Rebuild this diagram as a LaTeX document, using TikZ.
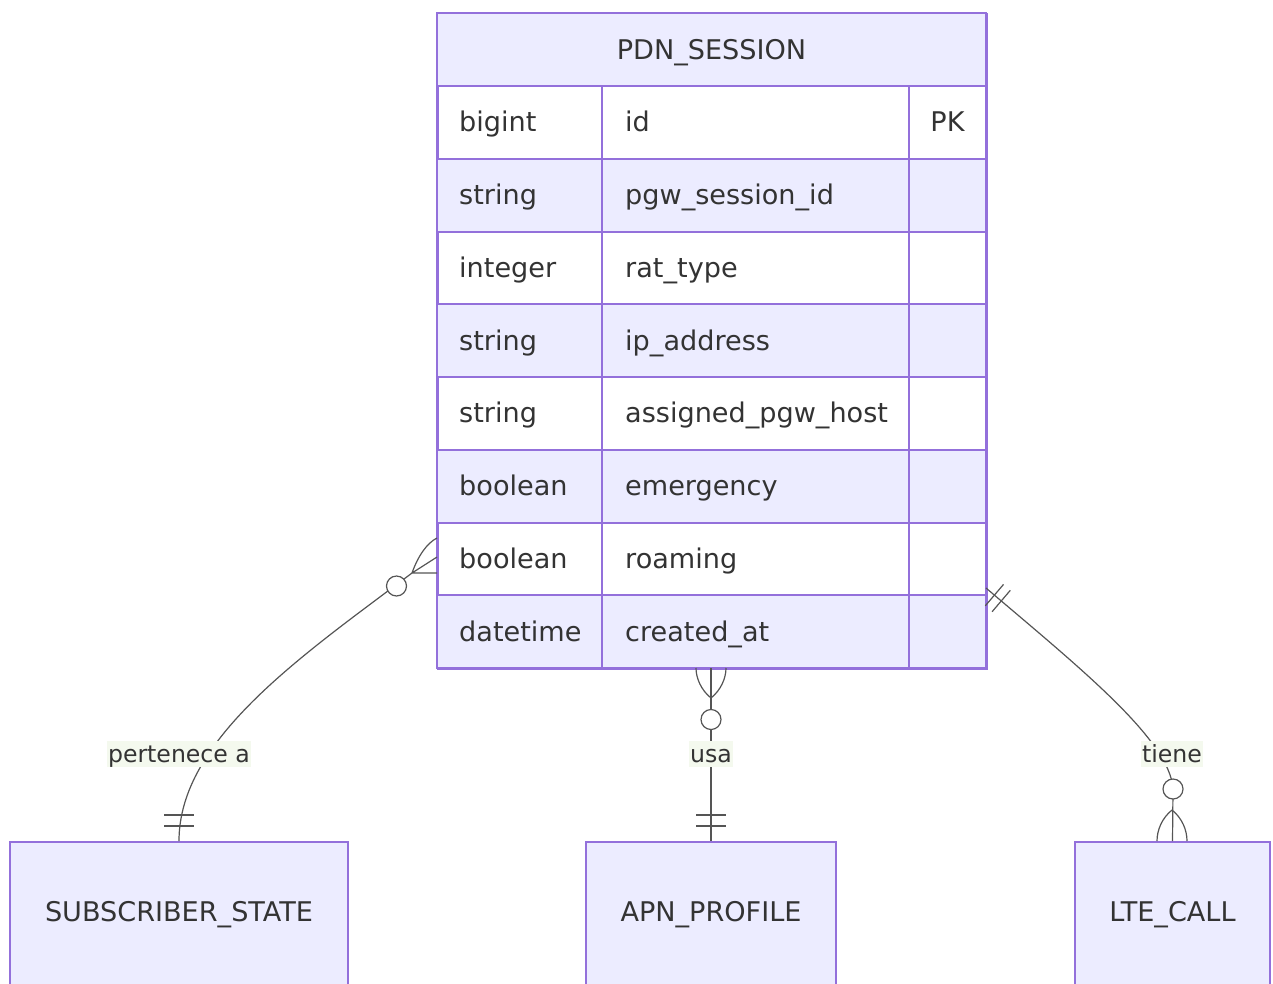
\documentclass[tikz,border=0pt]{standalone}
\usepackage{fontspec}
\setmainfont{DejaVu Sans}
\definecolor{ebox}{HTML}{ECECFF}
\definecolor{estroke}{HTML}{9370DB}
\definecolor{txt}{HTML}{333333}
\definecolor{lblbg}{HTML}{F4F9EE}
\definecolor{rel}{HTML}{555555}
\tikzset{
  enttext/.style={text=txt, font=\fontsize{27.1}{32}\selectfont, inner sep=0pt, text height=23pt, text depth=4pt},
  entbox/.style={draw=estroke, fill=ebox, line width=2pt, text=txt, font=\fontsize{27.1}{32}\selectfont},
  relline/.style={draw=rel, line width=1.2pt},
  relcirc/.style={circle, draw=rel, fill=white, line width=1.2pt, inner sep=0pt, minimum size=20pt},
  rellabel/.style={fill=lblbg, text=txt, font=\fontsize{23.6}{28}\selectfont, inner sep=1pt, text height=20pt, text depth=4pt}
}
\begin{document}
\begin{tikzpicture}[x=1pt,y=-1pt]
\useasboundingbox (0,0) rectangle (1273,983);
% main entity
\node[draw=estroke, line width=2pt, minimum width=549pt, minimum height=655pt, anchor=north west, inner sep=0pt] (pdn) at (437,13) {};
\fill[ebox] (437,13) rectangle (986,86);
\foreach [count=\i from 0] \t/\n/\k in {bigint/id/PK, string/pgw\_session\_id/{}, integer/rat\_type/{}, string/ip\_address/{}, string/assigned\_pgw\_host/{}, boolean/emergency/{}, boolean/roaming/{}, datetime/created\_at/{}}{
  \pgfmathsetmacro{\yt}{86+72.75*\i}
  \pgfmathsetmacro{\yc}{\yt+36.375}
  \pgfmathparse{mod(\i,2)==1?1:0}
  \ifnum\pgfmathresult=1
    \fill[ebox] (437,\yt) rectangle (986,\yt+72.75);
  \fi
  \node[enttext, anchor=west] (t\i) at (459,\yc) {\t};
  \node[enttext, anchor=west] (n\i) at (625,\yc) {\n};
  \node[enttext, anchor=center] (k\i) at (947.5,\yc) {\k};
  \draw[estroke, line width=2pt] (437,\yt) -- (986,\yt);
}
\draw[estroke, line width=2pt] (602,86) -- (602,668) (909,86) -- (909,668);
\draw[estroke, line width=2pt] (437,13) rectangle (986,668);
\node[enttext, anchor=center] (title) at (711.5,49.5) {PDN\_SESSION};

% bottom entities
\node[entbox, anchor=north, minimum width=338pt, minimum height=146pt] (sub) at (179,841) {SUBSCRIBER\_STATE};
\node[entbox, anchor=north, minimum width=250pt, minimum height=146pt] (apn) at (711,841) {APN\_PROFILE};
\node[entbox, anchor=north, minimum width=195pt, minimum height=146pt] (lte) at (1172.5,841) {LTE\_CALL};

% left relationship
\coordinate (lf) at (412,573);
\draw[relline] (lf) .. controls (300,657) and (179,740) .. (sub.north);
\draw[relline] (lf) -- (437,573) (lf) -- (437,557) (lf) .. controls (418,556) and (427,543) .. (437,538);
\node[relcirc] (lc) at (396.5,586) {};
\draw[relline] (164,815) -- (194,815) (164,826) -- (194,826);
\node[rellabel] (l1) at (179,754) {pertenece a};

% middle relationship
\coordinate (mtop) at (711,668);
\draw[relline] (mtop) -- (apn.north);
\draw[relline] (711,698) .. controls (701,690) and (696,678) .. (696,668)
               (711,698) .. controls (721,690) and (726,678) .. (726,668);
\node[relcirc] (mc) at (711,719.5) {};
\draw[relline] (696,815) -- (726,815) (696,826) -- (726,826);
\node[rellabel] (l2) at (711,754) {usa};

% right relationship
\coordinate (rs) at (986,588);
\draw[relline] (rs) .. controls (1080,668) and (1170,740) .. (1173,789) -- (lte.north);
\draw[relline] (985.3,605.8) -- (1003.5,584.4) (992.1,611.7) -- (1010.3,590.3);
\node[rellabel] (l3) at (1172,754) {tiene};
\draw[relline] (1172,810) .. controls (1162,818) and (1157,830) .. (1157,841)
               (1172,810) .. controls (1182,818) and (1187,830) .. (1187,841);
\node[relcirc] (rc) at (1173,789) {};
\end{tikzpicture}
\end{document}
